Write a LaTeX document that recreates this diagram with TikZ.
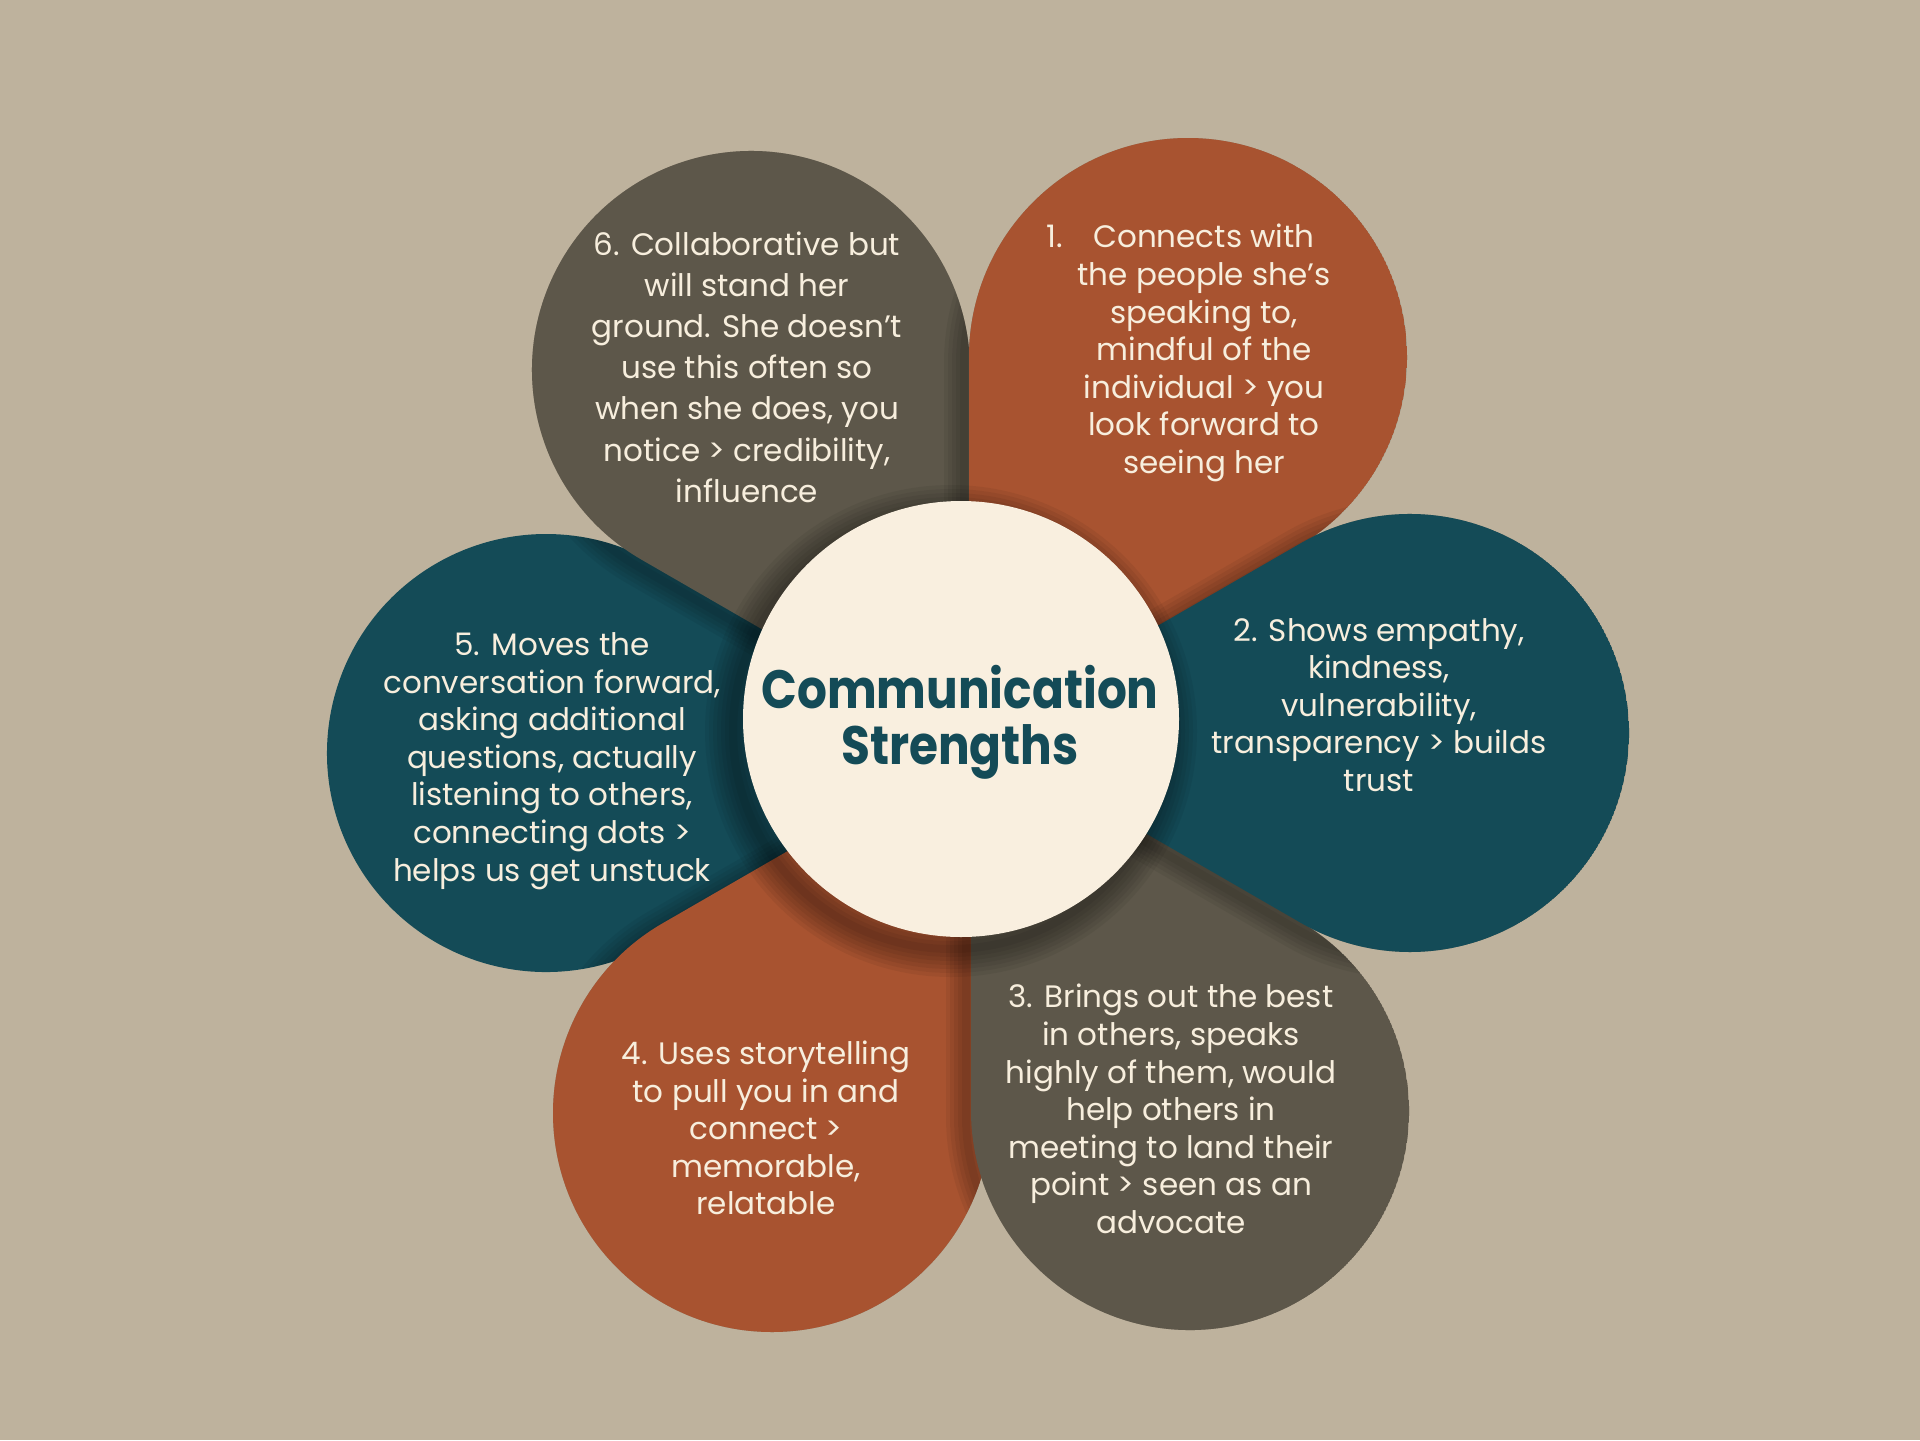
\documentclass[tikz,border=0pt]{standalone}
\usepackage{graphicx}
\usepackage{fontspec}
\setmainfont{Poppins}
\usetikzlibrary{calc}
\definecolor{bg}{HTML}{BEB29D}
\definecolor{rust}{HTML}{A85330}
\definecolor{petrol}{HTML}{144B57}
\definecolor{slate}{HTML}{5D574A}
\definecolor{cream}{HTML}{F9EFDF}
\definecolor{ink}{HTML}{F7EEDD}
\tikzset{
  petalshape/.style args={#1/#2/#3}{insert path={($(#1,#2)+(#3:438)$) -- ($(#1,#2)+({#3+60}:219)$) arc[start angle={#3+60}, end angle={#3+300}, radius=219] -- cycle}},
  petaltext/.style={text=ink, align=center, font=\fontsize{15.5}{18.8}\selectfont, inner sep=0pt},
  titletext/.style={text=petrol, align=center, font=\bfseries\fontsize{27}{28}\selectfont, inner sep=0pt},
}
\newcommand\petalshadow[1]{%
  \foreach \w in {4,8,12,16,20}{\draw[black, opacity=0.055, line width=\w pt, shift={(-5,6)}, petalshape=#1];}}
\newcommand\narrow[1]{\scalebox{0.87}[1]{#1}}
\begin{document}
\begin{tikzpicture}[x=0.5pt, y=-0.5pt]
\fill[bg] (0,0) rectangle (1920,1440);
\useasboundingbox (0,0) rectangle (1920,1440);
\begin{scope}
  \clip[petalshape=546/753/0, petalshape=751/370/60, petalshape=772/1113/300, petalshape=1188/357/120, petalshape=1190/1111/240, petalshape=1410/733/180];
  \fill[petrol, petalshape=546/753/0];
  \petalshadow{751/370/60}
  \fill[slate, petalshape=751/370/60];
  \petalshadow{772/1113/300}
  \fill[rust, petalshape=772/1113/300];
  \petalshadow{1188/357/120}
  \fill[rust, petalshape=1188/357/120];
  \petalshadow{1190/1111/240}
  \fill[slate, petalshape=1190/1111/240];
  \petalshadow{1410/733/180}
  \fill[petrol, petalshape=1410/733/180];
  \foreach \w in {4,8,12,16,20,24,28}{\draw[black, opacity=0.055, line width=\w pt] (951,731) circle (218);}
\end{scope}
\fill[cream] (961,719) circle (218);
\node[titletext] (title) at (960,722) {\narrow{Communication}\\\narrow{Strengths}};
\node[petaltext] (t1) at (1204,353) {\leavevmode\llap{1.\hspace{15pt}}Connects with\\the people she’s\\speaking to,\\mindful of the\\individual > you\\look forward to\\seeing her};
\node[petaltext] (t2) at (1379,705) {2. Shows empathy,\\kindness,\\vulnerability,\\transparency > builds\\trust};
\node[petaltext] (t3) at (1171,1109) {3. Brings out the best\\in others, speaks\\highly of them, would\\help others in\\meeting to land their\\point > seen as an\\advocate};
\node[petaltext] (t4) at (766,1128) {4. Uses storytelling\\to pull you in and\\connect >\\memorable,\\relatable};
\node[petaltext] (t5) at (552,761) {5. Moves the\\conversation forward,\\asking additional\\questions, actually\\listening to others,\\connecting dots >\\helps us get unstuck};
\node[petaltext, font=\fontsize{15.5}{20.6}\selectfont] (t6) at (747,367) {6. Collaborative but\\will stand her\\ground. She doesn’t\\use this often so\\when she does, you\\notice > credibility,\\influence};
\end{tikzpicture}
\end{document}
